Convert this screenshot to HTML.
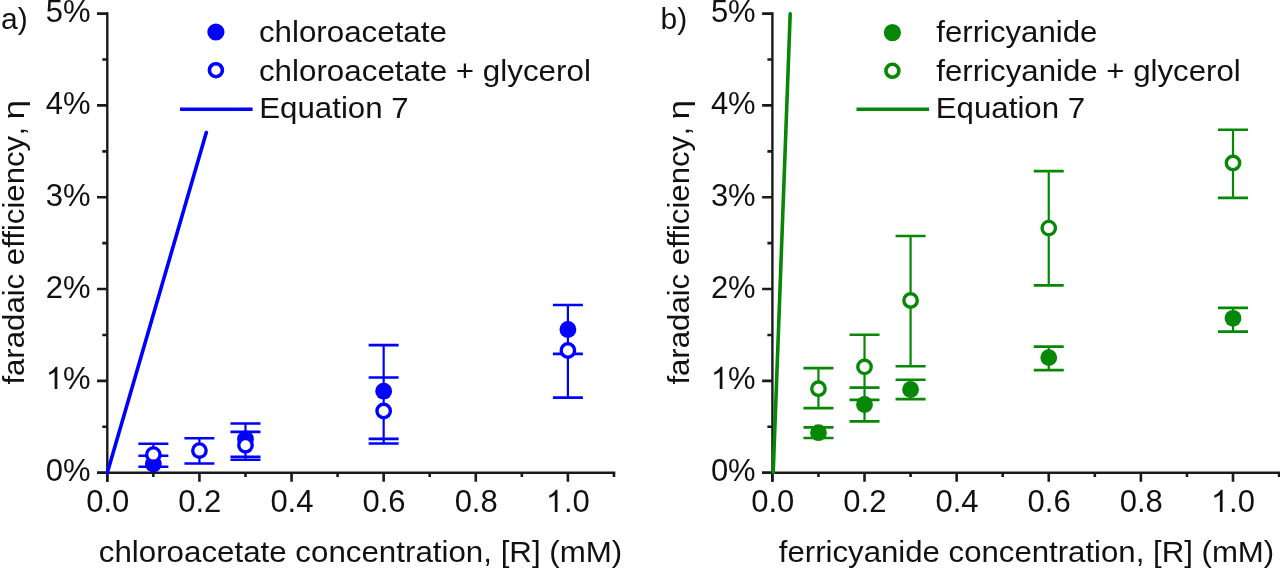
<!DOCTYPE html>
<html><head><meta charset="utf-8"><style>
html,body{margin:0;padding:0;background:#fff;width:1280px;height:569px;overflow:hidden}
svg{display:block;filter:blur(0.45px)}
text{font-family:"Liberation Sans", sans-serif;font-size:29px;fill:#111}
text.t{font-size:31px}
text.t30{font-size:30px}
</style></head><body>
<svg width="1280" height="569" viewBox="0 0 1280 569">
<rect width="1280" height="569" fill="#fff"/>
<path d="M107.3 12.3V481.7M97 472.7H615.26" stroke="#1a1a1a" stroke-width="2.4" fill="none"/>
<path d="M97 472.7H107.3M97 380.88H107.3M97 289.06H107.3M97 197.24H107.3M97 105.42H107.3M97 13.6H107.3M102.3 426.79H107.3M102.3 334.97H107.3M102.3 243.15H107.3M102.3 151.33H107.3M102.3 59.51H107.3M107.3 472.7V481.7M199.42 472.7V481.7M291.54 472.7V481.7M383.66 472.7V481.7M475.78 472.7V481.7M567.9 472.7V481.7M153.36 472.7V477M245.48 472.7V477M337.6 472.7V477M429.72 472.7V477M521.84 472.7V477M613.96 472.7V477" stroke="#1a1a1a" stroke-width="2.6" fill="none"/>
<text class="t" x="90.6" y="481" text-anchor="end">0%</text>
<path transform="translate(45.8 389) scale(0.015137 -0.015137)" d="M763 0L583 0L583 1147Q518 1085 412 1023Q306 961 222 930L222 1104Q373 1175 486 1276Q599 1377 646 1472L763 1472Z" fill="#111"/><text class="t" x="90.6" y="389" text-anchor="end">%</text>
<text class="t" x="90.6" y="298" text-anchor="end">2%</text>
<text class="t" x="90.6" y="206" text-anchor="end">3%</text>
<text class="t" x="90.6" y="114" text-anchor="end">4%</text>
<text class="t" x="90.6" y="22" text-anchor="end">5%</text>
<text class="t" x="107.7" y="512" text-anchor="middle">0.0</text>
<text class="t" x="199.82" y="512" text-anchor="middle">0.2</text>
<text class="t" x="291.94" y="512" text-anchor="middle">0.4</text>
<text class="t" x="384.06" y="512" text-anchor="middle">0.6</text>
<text class="t" x="476.18" y="512" text-anchor="middle">0.8</text>
<path transform="translate(545.95 512) scale(0.015137 -0.015137)" d="M763 0L583 0L583 1147Q518 1085 412 1023Q306 961 222 930L222 1104Q373 1175 486 1276Q599 1377 646 1472L763 1472Z" fill="#111"/><text class="t" x="563.99" y="512">.0</text>
<text x="98.8" y="562" textLength="523.5" lengthAdjust="spacingAndGlyphs">chloroacetate concentration, [R] (mM)</text>
<g transform="translate(23.8 384.7) rotate(-90)"><text x="0.1" textLength="248.7" lengthAdjust="spacingAndGlyphs">faradaic efficiency</text><text x="249.35">,</text><text x="265.2" textLength="19.6" lengthAdjust="spacingAndGlyphs">η</text></g>
<text class="t30" x="1.0" y="29">a)</text>
<path d="M107.3 472.7L206.3 132.6" stroke="#0000ff" stroke-width="3.6" stroke-linecap="round" fill="none"/>
<path d="M153.36 443.7V466.7M199.42 438.3V463.5M245.48 431.9V459.8M245.48 423.5V456.8M383.66 345.1V438.9M383.66 377.5V443.5M567.9 305.0V397.6" stroke="#0000ff" stroke-width="2.2" fill="none"/>
<path d="M138.36 443.7h30M138.36 466.7h30M138.36 455.8h30M184.42 438.3h30M184.42 463.5h30M230.48 431.9h30M230.48 459.8h30M230.48 423.5h30M230.48 456.8h30M368.66 345.1h30M368.66 438.9h30M368.66 377.5h30M368.66 443.5h30M552.9 305.0h30M552.9 397.6h30M552.9 353.9h30" stroke="#0000ff" stroke-width="2.6" fill="none"/>
<circle cx="153.36" cy="464.0" r="8.4" fill="#0000ff"/>
<circle cx="245.48" cy="439.0" r="8.4" fill="#0000ff"/>
<circle cx="383.66" cy="391.2" r="8.4" fill="#0000ff"/>
<circle cx="567.9" cy="329.5" r="8.4" fill="#0000ff"/>
<circle cx="153.36" cy="454.6" r="6.7" fill="#fff" stroke="#0000ff" stroke-width="3.4"/>
<circle cx="199.42" cy="450.6" r="6.7" fill="#fff" stroke="#0000ff" stroke-width="3.4"/>
<circle cx="245.48" cy="445.3" r="6.7" fill="#fff" stroke="#0000ff" stroke-width="3.4"/>
<circle cx="383.66" cy="411.0" r="6.7" fill="#fff" stroke="#0000ff" stroke-width="3.4"/>
<circle cx="567.9" cy="350.5" r="6.7" fill="#fff" stroke="#0000ff" stroke-width="3.4"/>
<circle cx="215.9" cy="32.0" r="8.6" fill="#0000ff"/>
<circle cx="215.9" cy="70.2" r="6.5" fill="#fff" stroke="#0000ff" stroke-width="3.6"/>
<path d="M180 109.2H252.6" stroke="#0000ff" stroke-width="3.6"/>
<text x="258.9" y="42" textLength="188.0" lengthAdjust="spacingAndGlyphs">chloroacetate</text>
<text x="258.9" y="81" textLength="332.0" lengthAdjust="spacingAndGlyphs">chloroacetate + glycerol</text>
<text class="t30" x="259.2" y="118" textLength="149.5" lengthAdjust="spacingAndGlyphs">Equation 7</text>
<path d="M772.4 12.3V481.7M762.1 472.7H1280.36" stroke="#1a1a1a" stroke-width="2.4" fill="none"/>
<path d="M762.1 472.7H772.4M762.1 380.88H772.4M762.1 289.06H772.4M762.1 197.24H772.4M762.1 105.42H772.4M762.1 13.6H772.4M767.4 426.79H772.4M767.4 334.97H772.4M767.4 243.15H772.4M767.4 151.33H772.4M767.4 59.51H772.4M772.4 472.7V481.7M864.52 472.7V481.7M956.64 472.7V481.7M1048.76 472.7V481.7M1140.88 472.7V481.7M1233 472.7V481.7M818.46 472.7V477M910.58 472.7V477M1002.7 472.7V477M1094.82 472.7V477M1186.94 472.7V477M1279.06 472.7V477" stroke="#1a1a1a" stroke-width="2.6" fill="none"/>
<text class="t" x="755.7" y="481" text-anchor="end">0%</text>
<path transform="translate(710.9 389) scale(0.015137 -0.015137)" d="M763 0L583 0L583 1147Q518 1085 412 1023Q306 961 222 930L222 1104Q373 1175 486 1276Q599 1377 646 1472L763 1472Z" fill="#111"/><text class="t" x="755.7" y="389" text-anchor="end">%</text>
<text class="t" x="755.7" y="298" text-anchor="end">2%</text>
<text class="t" x="755.7" y="206" text-anchor="end">3%</text>
<text class="t" x="755.7" y="114" text-anchor="end">4%</text>
<text class="t" x="755.7" y="22" text-anchor="end">5%</text>
<text class="t" x="772.8" y="512" text-anchor="middle">0.0</text>
<text class="t" x="864.92" y="512" text-anchor="middle">0.2</text>
<text class="t" x="957.04" y="512" text-anchor="middle">0.4</text>
<text class="t" x="1049.16" y="512" text-anchor="middle">0.6</text>
<text class="t" x="1141.28" y="512" text-anchor="middle">0.8</text>
<path transform="translate(1211.05 512) scale(0.015137 -0.015137)" d="M763 0L583 0L583 1147Q518 1085 412 1023Q306 961 222 930L222 1104Q373 1175 486 1276Q599 1377 646 1472L763 1472Z" fill="#111"/><text class="t" x="1229.09" y="512">.0</text>
<text x="778.8" y="562" textLength="495.4" lengthAdjust="spacingAndGlyphs">ferricyanide concentration, [R] (mM)</text>
<g transform="translate(688.9 384.7) rotate(-90)"><text x="0.1" textLength="248.7" lengthAdjust="spacingAndGlyphs">faradaic efficiency</text><text x="249.35">,</text><text x="265.2" textLength="19.6" lengthAdjust="spacingAndGlyphs">η</text></g>
<text class="t30" x="660.5" y="29">b)</text>
<path d="M773.2 472.7L790.2 13.8" stroke="#068806" stroke-width="3.6" stroke-linecap="round" fill="none"/>
<path d="M818.46 368.1V408.1M818.46 427.4V438.0M864.52 334.8V399.9M864.52 387.6V421.4M910.58 236.0V366.2M910.58 379.7V399.1M1048.76 171.1V285.4M1048.76 346.6V370.1M1233 129.8V197.9M1233 307.9V331.6" stroke="#068806" stroke-width="2.2" fill="none"/>
<path d="M803.46 368.1h30M803.46 408.1h30M803.46 427.4h30M803.46 438.0h30M849.52 334.8h30M849.52 399.9h30M849.52 387.6h30M849.52 421.4h30M895.58 236.0h30M895.58 366.2h30M895.58 379.7h30M895.58 399.1h30M1033.76 171.1h30M1033.76 285.4h30M1033.76 346.6h30M1033.76 370.1h30M1218 129.8h30M1218 197.9h30M1218 307.9h30M1218 331.6h30" stroke="#068806" stroke-width="2.6" fill="none"/>
<circle cx="818.46" cy="432.7" r="8.4" fill="#068806"/>
<circle cx="864.52" cy="404.5" r="8.4" fill="#068806"/>
<circle cx="910.58" cy="389.5" r="8.4" fill="#068806"/>
<circle cx="1048.76" cy="357.6" r="8.4" fill="#068806"/>
<circle cx="1233" cy="318.3" r="8.4" fill="#068806"/>
<circle cx="818.46" cy="388.7" r="6.7" fill="#fff" stroke="#068806" stroke-width="3.4"/>
<circle cx="864.52" cy="366.9" r="6.7" fill="#fff" stroke="#068806" stroke-width="3.4"/>
<circle cx="910.58" cy="300.5" r="6.7" fill="#fff" stroke="#068806" stroke-width="3.4"/>
<circle cx="1048.76" cy="228.1" r="6.7" fill="#fff" stroke="#068806" stroke-width="3.4"/>
<circle cx="1233" cy="163.0" r="6.7" fill="#fff" stroke="#068806" stroke-width="3.4"/>
<circle cx="892.4" cy="32.6" r="8.6" fill="#068806"/>
<circle cx="892.4" cy="70.8" r="6.5" fill="#fff" stroke="#068806" stroke-width="3.6"/>
<path d="M856.5 109.2H929.1" stroke="#068806" stroke-width="3.6"/>
<text x="936.3" y="42" textLength="161.0" lengthAdjust="spacingAndGlyphs">ferricyanide</text>
<text x="936.3" y="81" textLength="304.5" lengthAdjust="spacingAndGlyphs">ferricyanide + glycerol</text>
<text class="t30" x="935.8" y="118" textLength="149.3" lengthAdjust="spacingAndGlyphs">Equation 7</text>
</svg>
</body></html>
